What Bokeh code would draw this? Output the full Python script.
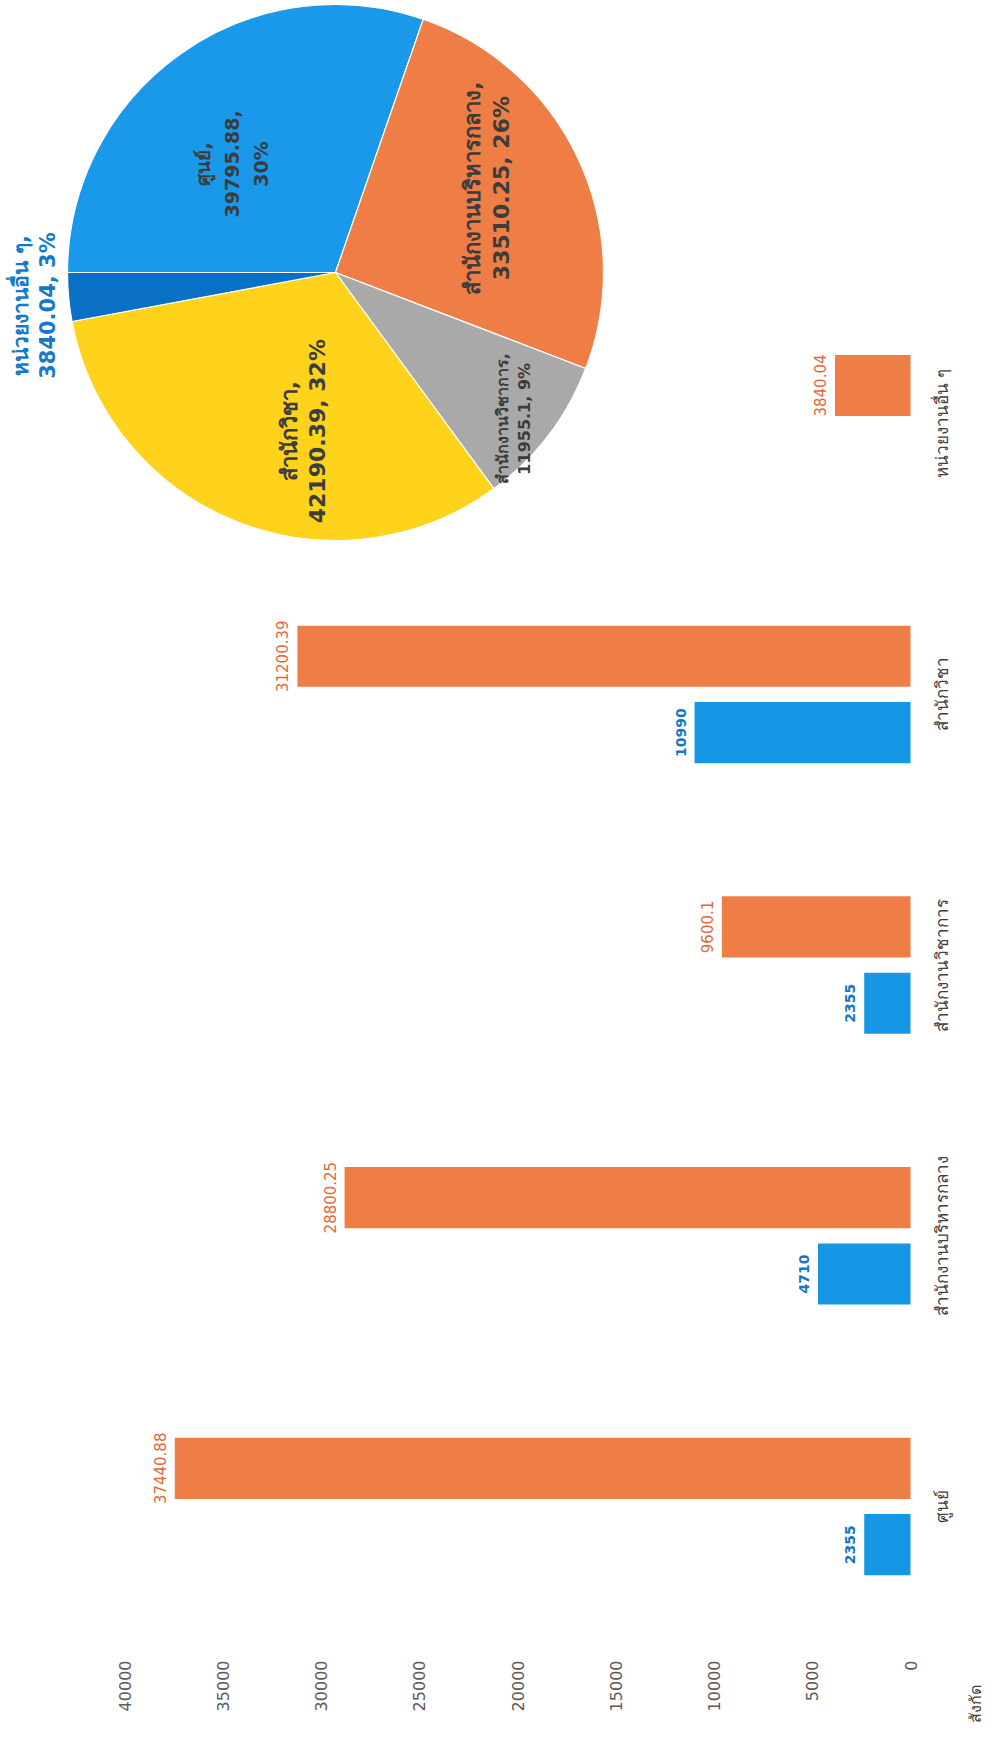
import math
from bokeh.plotting import figure
from bokeh.models import ColumnDataSource, Range1d
from bokeh.core.properties import value
from bokeh.embed import file_html
from bokeh.resources import INLINE

# ---------------- data ----------------
categories = ["ศูนย์", "สำนักงานบริหารกลาง", "สำนักงานวิชาการ", "สำนักวิชา", "หน่วยงานอื่น ๆ"]
series_blue = [2355, 4710, 2355, 10990, None]
series_orange = [37440.88, 28800.25, 9600.1, 31200.39, 3840.04]
pie_values = [39795.88, 33510.25, 11955.1, 42190.39, 3840.04]
value_ticks = [0, 5000, 10000, 15000, 20000, 25000, 30000, 35000, 40000]
axis_title = "สังกัด"

# ---------------- styles ----------------
FONT = "DejaVu Sans"
BLUE = "#1697E6"
ORANGE = "#EE7E45"
pie_colors = ["#1A99EA", "#EE7E45", "#A9A9A9", "#FFD21C", "#0A70C6"]
pie_label_colors = ["#3C3C3C", "#3C3C3C", "#3C3C3C", "#3C3C3C", "#1479CC"]
pie_label_sizes = ["19px", "22px", "16px", "22px", "21px"]
pie_label_line_h = [1.3, 1.15, 1.15, 1.15, 1.15]
pie_label_radius = [0.56, 0.647, 0.86, 0.604, 1.13]
pie_label_turn = [8.2, 4.2, -2.0, 10.2, 1.0]        # degrees from the slice middle
pie_label_three_lines = [True, False, False, False, False]

# ---------------- layout (px, relative to the plot frame) ----------------
W, H = 986, 1733
ZERO_X = 910                      # frame x of value 0
PX_PER_UNIT = 786 / 40000.0       # value axis scale
CAT_STEP = 270.7                  # px between categories
CAT0_Y = 1506                     # frame y (from top) of first category
PIE_CX, PIE_CY, PIE_R = 335, 272, 268
BAR_H = 0.226
BAR_OFF = 0.141
TICK_LABEL_TOP = 1660             # frame y of the end of the value tick labels
CAT_LABEL_DX = 31                 # px right of the zero line
TITLE_DX, TITLE_Y = 65, 1703      # axis title position

x_start = ZERO_X / PX_PER_UNIT
x_end = -(W - ZERO_X) / PX_PER_UNIT
y_top = CAT0_Y / CAT_STEP
y_bot = -(H - CAT0_Y) / CAT_STEP

def ycat(py):
    return (CAT0_Y - py) / CAT_STEP

p = figure(width=W, height=H, output_backend="svg", toolbar_location=None,
           x_range=Range1d(x_start, x_end), y_range=Range1d(y_bot, y_top),
           x_axis_location=None, y_axis_location=None, min_border=0)
p.outline_line_color = None
p.xgrid.visible = False
p.ygrid.visible = False
p.background_fill_color = "white"

p.extra_x_ranges = {"pie_x": Range1d(-PIE_CX / PIE_R, (W - PIE_CX) / PIE_R)}
p.extra_y_ranges = {"pie_y": Range1d(-(H - PIE_CY) / PIE_R, PIE_CY / PIE_R)}

# ---------------- bars ----------------
def fmt(v):
    return ("%.2f" % v).rstrip("0").rstrip(".")

idx = list(range(len(categories)))
orange_src = ColumnDataSource(dict(
    y=[i + BAR_OFF for i in idx], v=series_orange,
    lab=[fmt(v) for v in series_orange]))
bi = [i for i in idx if series_blue[i] is not None]
blue_src = ColumnDataSource(dict(
    y=[i - BAR_OFF for i in bi], v=[series_blue[i] for i in bi],
    lab=[fmt(series_blue[i]) for i in bi]))

p.hbar(y="y", left=0, right="v", height=BAR_H, source=orange_src,
       fill_color=ORANGE, line_color=None)
p.hbar(y="y", left=0, right="v", height=BAR_H, source=blue_src,
       fill_color=BLUE, line_color=None)

p.text(x="v", y="y", text="lab", source=orange_src, angle=math.pi / 2,
       x_offset=-9, text_align="center", text_baseline="bottom",
       text_font=value(FONT), text_font_size="15px", text_color="#E2683A")
p.text(x="v", y="y", text="lab", source=blue_src, angle=math.pi / 2,
       x_offset=-9, text_align="center", text_baseline="bottom",
       text_font=value(FONT), text_font_size="14px", text_color="#1478C8",
       text_font_style="bold")

# ---------------- value axis tick labels ----------------
tick_src = ColumnDataSource(dict(x=value_ticks, y=[ycat(TICK_LABEL_TOP)] * len(value_ticks),
                                 t=[str(t) for t in value_ticks]))
p.text(x="x", y="y", text="t", source=tick_src, angle=math.pi / 2,
       text_align="right", text_baseline="middle", text_font=value(FONT),
       text_font_size="16px", text_color="#595959")

# ---------------- category labels and axis title ----------------
cat_src = ColumnDataSource(dict(x=[0] * len(idx), y=idx, t=categories))
p.text(x="x", y="y", text="t", source=cat_src, angle=math.pi / 2, x_offset=CAT_LABEL_DX,
       text_align="center", text_baseline="middle", text_font=value(FONT),
       text_font_size="17px", text_color="#404040")
p.text(x=[0], y=[ycat(TITLE_Y)], text=[axis_title], angle=math.pi / 2, x_offset=TITLE_DX,
       text_align="center", text_baseline="middle", text_font=value(FONT),
       text_font_size="16px", text_color="#404040")

# ---------------- pie ----------------
total = sum(pie_values)
starts, ends, lx, ly, labels = [], [], [], [], []
cum = 0.0
for i, v in enumerate(pie_values):
    a0 = math.pi - 2 * math.pi * cum / total
    cum += v
    a1 = math.pi - 2 * math.pi * cum / total
    starts.append(a0)
    ends.append(a1)
    mid = (a0 + a1) / 2 + math.radians(pie_label_turn[i])
    lx.append(pie_label_radius[i] * math.cos(mid))
    ly.append(pie_label_radius[i] * math.sin(mid))
    pct = round(v / total * 100)
    if pie_label_three_lines[i]:
        labels.append(f"{categories[i]},\n{fmt(v)},\n{pct}%")
    else:
        labels.append(f"{categories[i]},\n{fmt(v)}, {pct}%")

pie_src = ColumnDataSource(dict(s=starts, e=ends, c=pie_colors))
p.wedge(x=0, y=0, radius=1, start_angle="s", end_angle="e", direction="clock",
        fill_color="c", line_color="white", line_width=1.2, source=pie_src,
        x_range_name="pie_x", y_range_name="pie_y")

for lh in sorted(set(pie_label_line_h)):
    sel = [i for i in range(len(labels)) if pie_label_line_h[i] == lh]
    src = ColumnDataSource(dict(x=[lx[i] for i in sel], y=[ly[i] for i in sel],
                                t=[labels[i] for i in sel],
                                c=[pie_label_colors[i] for i in sel],
                                fs=[pie_label_sizes[i] for i in sel]))
    p.text(x="x", y="y", text="t", source=src, angle=math.pi / 2,
           text_align="center", text_baseline="middle", text_color="c",
           text_font=value(FONT), text_font_size="fs", text_font_style="bold",
           text_line_height=lh, x_range_name="pie_x", y_range_name="pie_y")

open("out.html", "w").write(file_html(p, INLINE))
